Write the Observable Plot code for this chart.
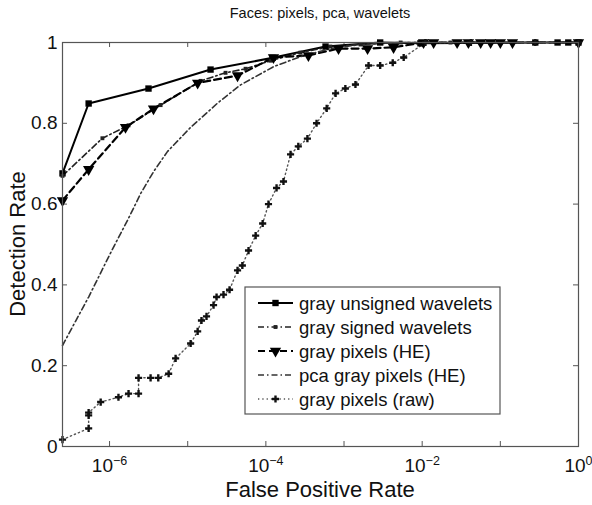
<!DOCTYPE html>
<html><head><meta charset="utf-8">
<script src="https://cdn.jsdelivr.net/npm/d3@7"></script>
<script src="https://cdn.jsdelivr.net/npm/@observablehq/plot@0.6"></script>
<style>
body{margin:0;background:#fff}
#chart{width:592px;height:505px}
</style>
</head><body><div id="chart"></div>
<script>
// ---------- data ----------
const titleText = "Faces: pixels, pca, wavelets";
const xLabel = "False Positive Rate";
const yLabel = "Detection Rate";
const seriesNames = ["gray unsigned wavelets","gray signed wavelets","gray pixels (HE)","pca gray pixels (HE)","gray pixels (raw)"];

const unsignedWavelets = [[2.5e-7,0.676],[5.4e-7,0.849],[3.15e-6,0.886],[1.96e-5,0.933],[1.22e-4,0.962],[5.8e-4,0.99],[2.9e-3,1.0],[9.5e-3,0.998],[0.28,1],[0.54,1],[0.74,1],[1,1]];
const signedWavelets = [[2.5e-7,0.67],[8.1e-7,0.763],[1.75e-6,0.795],[4.5e-6,0.845],[1.46e-5,0.905],[3.05e-5,0.925],[5.5e-5,0.935],[1.15e-4,0.955],[2.77e-4,0.975],[6.7e-4,0.99],[1.63e-3,0.995],[5.3e-3,1],[2.3e-2,1],[0.1,1],[1,1]];
const pixelsHE = [[2.5e-7,0.609],[5.4e-7,0.686],[1.6e-6,0.79],[3.65e-6,0.836],[1.34e-5,0.90],[4.34e-5,0.918],[1.25e-4,0.963],[3.5e-4,0.968],[8.5e-4,0.985],[2.0e-3,0.985],[4.3e-3,0.988],[1.04e-2,1.0],[1.4e-2,1],[2.8e-2,1],[3.9e-2,1],[5.6e-2,1],[7.5e-2,1],[0.1,1],[0.143,1],[1,1]];
const pcaPixelsHE = [[2.5e-7,0.25],[3.67e-7,0.31],[5.4e-7,0.37],[7.7e-7,0.43],[1.1e-6,0.49],[1.7e-6,0.56],[2.5e-6,0.626],[3.65e-6,0.68],[5.5e-6,0.73],[1.09e-5,0.79],[2.41e-5,0.85],[4.74e-5,0.895],[1.25e-4,0.94],[2.77e-4,0.965],[6.7e-4,0.985],[1.63e-3,0.995],[5.3e-3,1],[1,1]];
const pixelsRaw = [[2.5e-7,0.017],[5.4e-7,0.045],[5.4e-7,0.077],[5.4e-7,0.084],[7.7e-7,0.11],[1.3e-6,0.122],[1.75e-6,0.131],[2.35e-6,0.131],[2.35e-6,0.17],[3.35e-6,0.17],[4.2e-6,0.17],[5.7e-6,0.18],[7.0e-6,0.218],[1.09e-5,0.255],[1.34e-5,0.285],[1.5e-5,0.312],[1.74e-5,0.322],[2.14e-5,0.35],[2.34e-5,0.37],[2.87e-5,0.376],[3.43e-5,0.388],[4.34e-5,0.436],[5.0e-5,0.448],[6.0e-5,0.485],[7.4e-5,0.522],[9.1e-5,0.552],[1.08e-4,0.60],[1.37e-4,0.64],[1.68e-4,0.656],[2.07e-4,0.723],[2.6e-4,0.743],[3.4e-4,0.762],[4.45e-4,0.8],[6.0e-4,0.837],[7.8e-4,0.874],[1.04e-3,0.886],[1.4e-3,0.896],[2.06e-3,0.943],[2.9e-3,0.943],[4.2e-3,0.95],[5.8e-3,0.963],[1.1e-2,1],[4.2e-2,1],[0.28,1],[1,1]];

const xDomain = [2.5e-7, 1];
const yDomain = [0, 1];
const xTickValues = [1e-6,1e-5,1e-4,1e-3,1e-2,1e-1,1];
const xLabelValues = [1e-6,1e-4,1e-2,1];
const yTickValues = [0,0.2,0.4,0.6,0.8,1];

// ---------- styles ----------
const FONT = "Liberation Sans, Arial, Helvetica, sans-serif";
const W = 592, H = 505, mL = 62, mR = 14, mT = 42, mB = 59;
const styles = [
  {stroke:"#000", width:2, dash:null, symbol:"square", r:3.6, rotate:0, fill:"#000"},
  {stroke:"#222", width:1.6, dash:"6,3,1.5,3", symbol:"square", r:2.2, rotate:0, fill:"#222"},
  {stroke:"#000", width:2.2, dash:"7,4", symbol:"triangle", r:4.2, rotate:180, fill:"#000"},
  {stroke:"#333", width:1.6, dash:"6,3,1.5,3", symbol:null},
  {stroke:"#555", width:1.4, dash:"1.3,3", symbol:"cross", r:3.0, rotate:0, fill:"#111"}
];
const allSeries = [unsignedWavelets, signedWavelets, pixelsHE, pcaPixelsHE, pixelsRaw];

// inward tick lengths (in data units, via log-space offsets)
const plotW = W - mL - mR, plotH = H - mT - mB;
const decades = Math.log10(xDomain[1]) - Math.log10(xDomain[0]);
const tickPx = 5;
const xTickFactor = Math.pow(10, tickPx / plotW * decades);
const yTickLen = tickPx / plotH;

const marks = [];
marks.push(Plot.ruleX(xTickValues, {x: d => d, y1: 0, y2: yTickLen, stroke: "#555", strokeWidth: 1}));
marks.push(Plot.ruleX(xTickValues, {x: d => d, y1: 1 - yTickLen, y2: 1, stroke: "#555", strokeWidth: 1}));
marks.push(Plot.ruleY(yTickValues, {y: d => d, x1: xDomain[0], x2: xDomain[0] * xTickFactor, stroke: "#555", strokeWidth: 1}));
marks.push(Plot.ruleY(yTickValues, {y: d => d, x1: xDomain[1] / xTickFactor, x2: xDomain[1], stroke: "#555", strokeWidth: 1}));

allSeries.forEach((data, i) => {
  const s = styles[i];
  marks.push(Plot.line(data, {x: d => d[0], y: d => d[1], stroke: s.stroke, strokeWidth: s.width, strokeDasharray: s.dash, curve: "linear"}));
});
allSeries.forEach((data, i) => {
  const s = styles[i];
  if (s.symbol) marks.push(Plot.dot(data, {x: d => d[0], y: d => d[1], symbol: s.symbol, r: s.r, rotate: s.rotate, fill: s.fill, stroke: "none"}));
});
marks.push(Plot.frame({stroke: "#555", strokeWidth: 1.2}));
marks.push(Plot.axisX(xLabelValues, {tickSize: 0, tickPadding: 12, fontSize: 19, tickFormat: d => "10^" + Math.round(Math.log10(d)), fill: "#111"}));
marks.push(Plot.axisY(yTickValues, {tickSize: 0, tickPadding: 5, fontSize: 19, tickFormat: d => String(d), fill: "#111"}));

const svg = Plot.plot({
  width: W, height: H,
  marginLeft: mL, marginRight: mR, marginTop: mT, marginBottom: mB,
  x: {type: "log", domain: xDomain, label: null},
  y: {domain: yDomain, label: null},
  style: {fontFamily: FONT, background: "#fff", overflow: "visible"},
  marks
});
document.getElementById("chart").appendChild(svg);

const sel = d3.select(svg);
sel.selectAll('g[aria-label="x-axis tick label"] text').each(function() {
  const t = d3.select(this);
  const txt = this.textContent;
  const m = txt.match(/^10\^(-?\d+)$/);
  if (!m) return;
  t.text(null);
  t.append("tspan").text("10");
  t.append("tspan").attr("dy", "-0.6em").attr("font-size", "12.5px").text(m[1].replace("-", "\u2212"));
});

sel.append("text").attr("x", 320).attr("y", 18).attr("text-anchor", "middle")
  .attr("font-family", FONT).attr("font-size", 14.5).attr("fill", "#111").text(titleText);
sel.append("text").attr("x", 320).attr("y", 497).attr("text-anchor", "middle")
  .attr("font-family", FONT).attr("font-size", 22).attr("fill", "#111").text(xLabel);
sel.append("text").attr("transform", "translate(25,244) rotate(-90)").attr("text-anchor", "middle")
  .attr("font-family", FONT).attr("font-size", 22).attr("fill", "#111").text(yLabel);

const lg = sel.append("g");
lg.append("rect").attr("x", 245).attr("y", 287).attr("width", 255).attr("height", 127)
  .attr("fill", "#fff").attr("stroke", "#555").attr("stroke-width", 1.2);
const symMap = {square: d3.symbolSquare, triangle: d3.symbolTriangle, cross: d3.symbolCross};
seriesNames.forEach((name, i) => {
  const s = styles[i];
  const yy = 303 + i * 24;
  const ln = lg.append("line").attr("x1", 258).attr("x2", 293).attr("y1", yy).attr("y2", yy)
    .attr("stroke", s.stroke).attr("stroke-width", s.width);
  if (s.dash) ln.attr("stroke-dasharray", s.dash);
  if (s.symbol) {
    lg.append("path").attr("d", d3.symbol(symMap[s.symbol], Math.PI * s.r * s.r)())
      .attr("transform", `translate(275.5,${yy}) rotate(${s.rotate})`).attr("fill", s.fill);
  }
  lg.append("text").attr("x", 299).attr("y", yy).attr("dy", "0.36em").attr("text-anchor", "start")
    .attr("font-family", FONT).attr("font-size", 18.5).attr("fill", "#111").text(name);
});
</script>
</body></html>
